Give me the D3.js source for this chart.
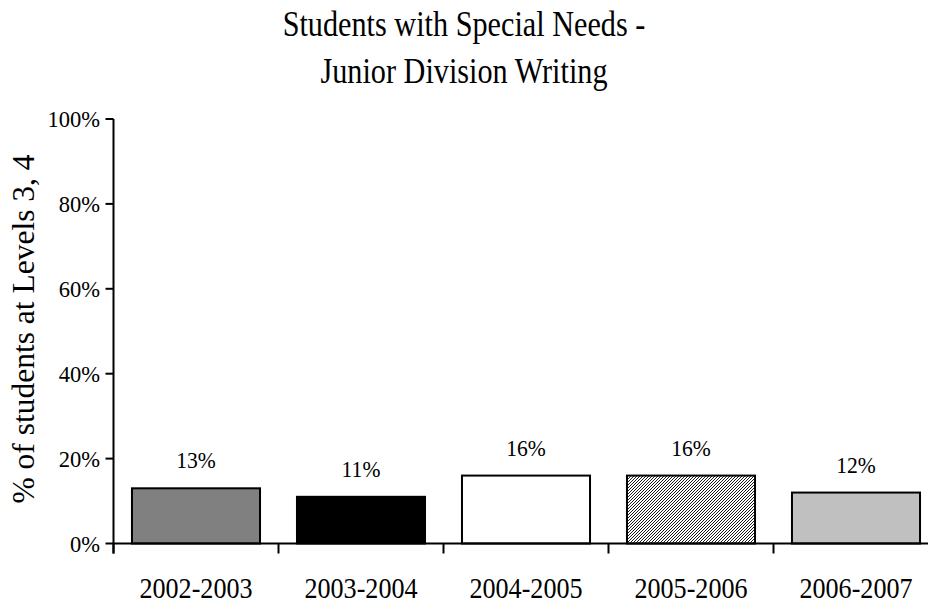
<!DOCTYPE html>
<html><head><meta charset="utf-8">
<script src="https://cdn.jsdelivr.net/npm/d3@7"></script>
<style>body{margin:0;background:#fff}svg{display:block}text{font-family:"Liberation Serif","Times New Roman",serif;fill:#000}</style>
</head><body>
<svg id="c" width="928" height="605"></svg>
<script>
const categories = ["2002-2003","2003-2004","2004-2005","2005-2006","2006-2007"];
const values = [13, 11, 16, 16, 12];
const valueLabels = ["13%","11%","16%","16%","12%"];
const yTicks = [0, 20, 40, 60, 80, 100];
const fills = ["#808080","#000000","#ffffff","url(#hatch)","#c0c0c0"];
const titleLines = ["Students with Special Needs -","Junior Division Writing"];
const yTitle = "% of students at Levels 3, 4";

const svg = d3.select("#c");
const defs = svg.append("defs");
const pat = defs.append("pattern").attr("id","hatch").attr("patternUnits","userSpaceOnUse")
  .attr("width",3).attr("height",3);
pat.append("rect").attr("width",3).attr("height",3).attr("fill","#fff");
pat.append("path").attr("d","M-1,1 l2,-2 M0,3 l3,-3 M2,4 l2,-2").attr("stroke","#000").attr("stroke-width",0.9);

const x0 = 113.5, step = 165;
const x = d3.scaleBand().domain(categories).range([x0, x0 + step*categories.length])
  .paddingInner(0.224).paddingOuter(0.112);
const y = d3.scaleLinear().domain([0,100]).range([543.5,119]);

// bars
svg.selectAll("rect.bar").data(values).join("rect").attr("class","bar")
  .attr("x",(d,i)=>x(categories[i])).attr("width",x.bandwidth())
  .attr("y",d=>y(d)).attr("height",d=>y(0)-y(d))
  .attr("fill",(d,i)=>fills[i]).attr("stroke","#000").attr("stroke-width",2);

// value labels
svg.selectAll("text.val").data(values).join("text").attr("class","val")
  .attr("transform",(d,i)=>`translate(${x(categories[i])+x.bandwidth()/2},${y(d)-20}) scale(0.9,1)`)
  .attr("text-anchor","middle").attr("font-size",24).text((d,i)=>valueLabels[i]);

// y axis
const ya = svg.append("g");
ya.append("line").attr("x1",x0).attr("x2",x0).attr("y1",y(100)).attr("y2",y(0)+10).attr("stroke","#000").attr("stroke-width",2);
ya.selectAll("line.t").data(yTicks).join("line").attr("class","t")
  .attr("x1",x0-8).attr("x2",x0).attr("y1",d=>y(d)).attr("y2",d=>y(d)).attr("stroke","#000").attr("stroke-width",2);
ya.selectAll("text").data(yTicks).join("text")
  .attr("transform",d=>`translate(100,${y(d)+8}) scale(0.94,1)`)
  .attr("text-anchor","end").attr("font-size",24).text(d=>d+"%");

// x axis
const xa = svg.append("g");
xa.append("line").attr("x1",x0).attr("x2",x0+step*categories.length).attr("y1",y(0)).attr("y2",y(0)).attr("stroke","#000").attr("stroke-width",2);
xa.selectAll("line.t").data(d3.range(categories.length+1)).join("line").attr("class","t")
  .attr("x1",i=>x0+i*step).attr("x2",i=>x0+i*step).attr("y1",y(0)).attr("y2",y(0)+10).attr("stroke","#000").attr("stroke-width",2);
xa.selectAll("text").data(categories).join("text")
  .attr("transform",d=>`translate(${x(d)+x.bandwidth()/2},598) scale(0.87,1)`)
  .attr("text-anchor","middle").attr("font-size",30).text(d=>d);

// y title
svg.append("text").attr("transform","translate(33.5,329) rotate(-90)")
  .attr("text-anchor","middle").attr("font-size",31.5).text(yTitle);

// title
svg.selectAll("text.title").data(titleLines).join("text").attr("class","title")
  .attr("transform",(d,i)=>`translate(464,${36+i*47}) scale(0.84,1)`)
  .attr("text-anchor","middle").attr("font-size",36).text(d=>d);
</script>
</body></html>
